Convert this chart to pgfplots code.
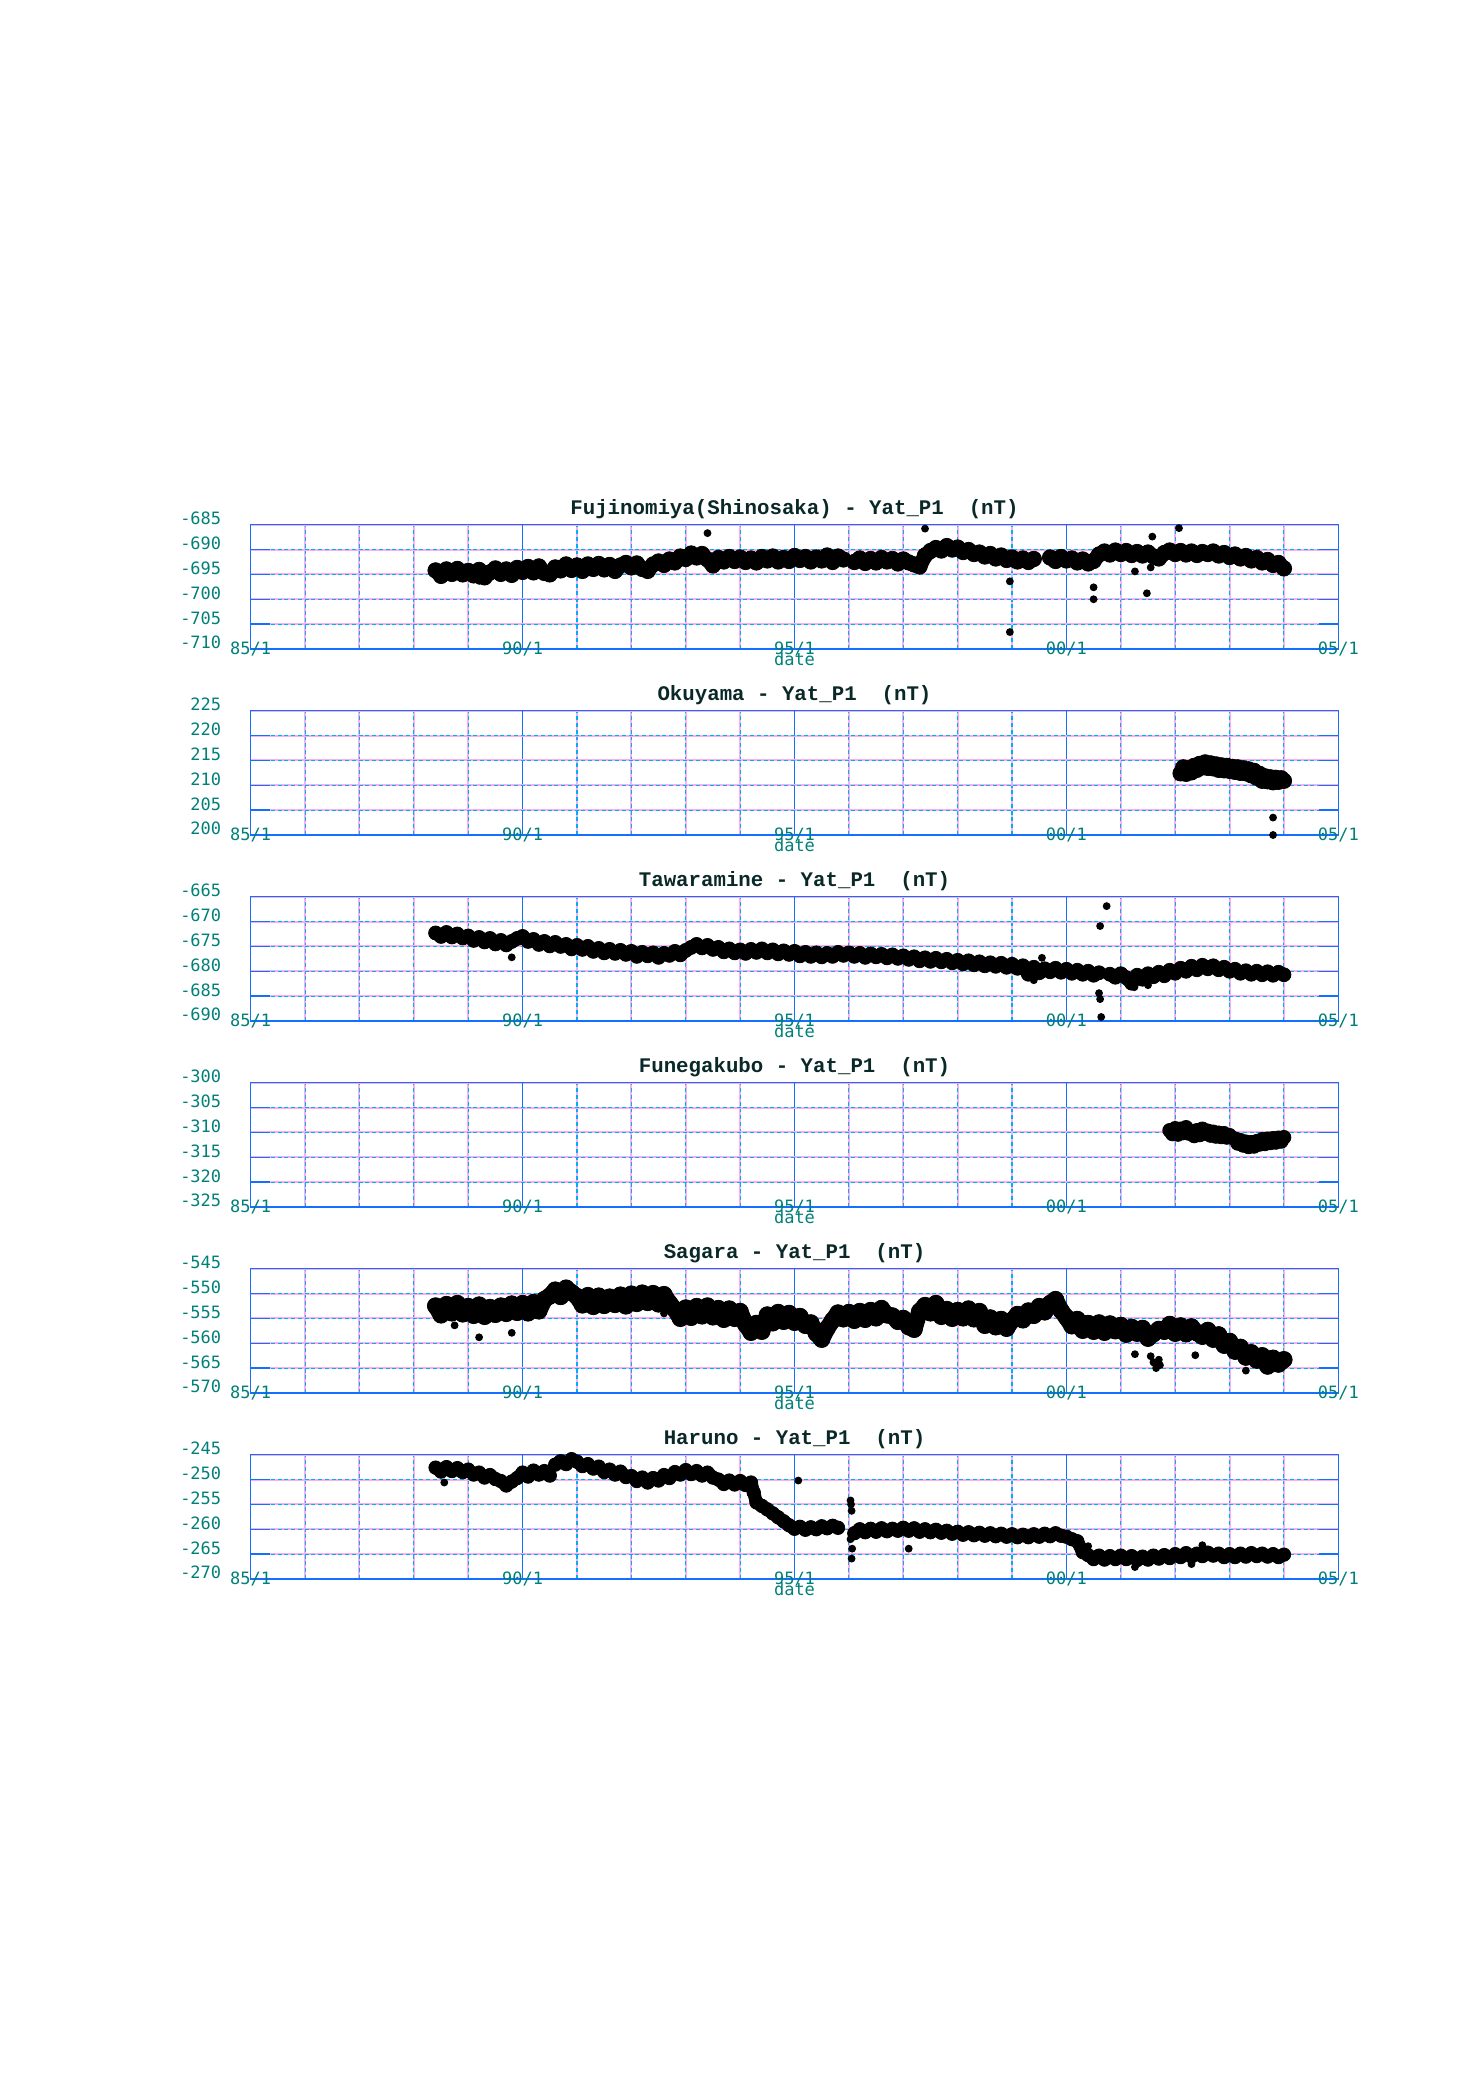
\documentclass[border=0pt]{standalone}
\usepackage{pgfplots}
\pgfplotsset{compat=1.18}
\usepackage{fontspec}
\newfontfamily\tickfont{DejaVu Sans Mono}
\newfontfamily\titlefont{Liberation Mono}
\definecolor{frameblue}{RGB}{20,110,255}
\definecolor{gridcyan}{RGB}{0,175,245}
\definecolor{gridpink}{RGB}{250,175,235}
\definecolor{labteal}{RGB}{0,128,120}
\definecolor{titlecol}{RGB}{10,40,40}
\pgfplotsset{
  panel/.style={
    scale only axis, width=435.04pt, height=49.72pt, anchor=south west,
    clip=false, unbounded coords=jump,
    xmin=85, xmax=105,
    xtick={85,90,95,100,105},
    xticklabels={85/1,90/1,95/1,00/1,05/1},
    minor xtick={86,87,88,89,91,92,93,94,96,97,98,99,101,102,103,104},
    tick align=inside, xtick pos=both, ytick pos=both,
    major tick length=7.6pt, minor tick length=0pt,
    tick style={frameblue, line width=0.6pt},
    axis line style={frameblue, line width=0.6pt},
    xmajorgrids, xminorgrids, ymajorgrids,
    major x grid style={frameblue, line width=0.5pt, solid},
    minor x grid style={gridcyan, line width=0.45pt, dash pattern=on 1.6pt off 1.1pt,
      preaction={draw=gridpink, solid, line width=0.8pt}},
    major y grid style={gridcyan, line width=0.45pt, dash pattern=on 1.6pt off 1.1pt,
      preaction={draw=gridpink, solid, line width=0.8pt}},
    xticklabel style={font=\tickfont\fontsize{6.8pt}{6.8pt}\selectfont, text=labteal, anchor=center, inner sep=0pt},
    yticklabel style={font=\tickfont\fontsize{6.8pt}{6.8pt}\selectfont, text=labteal, anchor=base east, inner sep=0pt, xshift=-11.6pt},
    xlabel={date},
    xlabel style={font=\tickfont\fontsize{6.8pt}{6.8pt}\selectfont, text=labteal, anchor=base, at={(axis description cs:0.5,0)}, yshift=-6.8pt, inner sep=0pt},
    title style={font=\titlefont\bfseries\fontsize{8.3pt}{8.3pt}\selectfont, text=titlecol, anchor=base, at={(axis description cs:0.5,1)}, yshift=-1.8pt, inner sep=0pt},
  },
  band/.style={black, mark=*, line join=round, line cap=round,
    mark options={solid, line width=0.3pt, draw=black, fill=black}},
  outl/.style={only marks, mark=*, mark size=1.35pt, black, mark options={draw=black, fill=black}},
}
\begin{document}
\begin{tikzpicture}
\path[use as bounding box] (0,0) rectangle (592pt,839.6pt);

% ---------- Fujinomiya ----------
\begin{axis}[panel, at={(100.28pt,580pt)}, ymin=-710, ymax=-685,
  ytick={-710,-705,-700,-695,-690,-685}, yticklabels={-710,-705,-700,-695,-690,-685},
  title={Fujinomiya(Shinosaka) - Yat\_P1\ \ (nT)}]
\addplot[band, line width=6pt, mark size=3.1pt] coordinates {
(88.4,-694.2)(88.5,-695.3)(88.6,-694.0)(88.7,-694.9)(88.8,-693.9)(88.9,-695.0)(89.0,-694.3)(89.1,-695.2)(89.2,-694.1)(89.3,-695.6)
(89.4,-694.6)(89.5,-693.8)(89.6,-694.9)(89.7,-694.0)(89.8,-695.1)(89.9,-693.7)(90.0,-694.5)(90.1,-693.5)(90.2,-694.6)(90.3,-693.4)
(90.4,-694.7)(90.5,-695.0)(90.6,-693.6)(90.7,-694.2)(90.8,-693.0)(90.9,-694.1)(91.0,-693.2)(91.1,-694.3)(91.2,-693.0)(91.3,-693.9)
(91.4,-692.9)(91.5,-694.0)(91.6,-693.1)(91.7,-694.3)(91.8,-693.2)(91.9,-692.7)(92.0,-693.6)(92.1,-692.8)(92.2,-693.9)(92.3,-694.3)
(92.4,-693.0)(92.5,-692.4)(92.6,-693.1)(92.7,-692.0)(92.8,-692.6)(92.9,-691.4)(93.0,-691.9)(93.1,-690.8)(93.2,-691.6)(93.3,-690.9)
(93.4,-692.0)(93.5,-693.2)(93.6,-691.7)(93.7,-692.4)(93.8,-691.5)(93.9,-692.3)(94.0,-691.6)(94.1,-692.5)(94.2,-691.8)(94.3,-692.6)
(94.4,-691.5)(94.5,-692.2)(94.6,-691.4)(94.7,-692.4)(94.8,-691.7)(94.9,-692.3)(95.0,-691.3)(95.1,-692.1)(95.2,-691.5)(95.3,-692.4)
(95.4,-691.6)(95.5,-692.2)(95.6,-691.2)(95.7,-692.5)(95.8,-691.4)(95.9,-692.0)(96.0,nan)
(96.1,-692.5)(96.2,-691.8)(96.3,-692.7)(96.4,-691.9)(96.5,-692.6)(96.6,-691.7)(96.7,-692.4)(96.8,-691.9)(96.9,-692.8)(97.0,-692.0)
(97.1,-692.6)(97.2,-693.0)(97.3,-693.4)(97.4,-691.2)(97.5,-690.3)(97.6,-689.7)(97.7,-690.2)(97.8,-689.3)(97.9,-690.0)(98.0,-689.6)
(98.1,-690.5)(98.2,-690.1)(98.3,-690.9)(98.4,-690.6)(98.5,-691.4)(98.6,-690.9)(98.7,-691.8)(98.8,-691.2)(98.9,-692.1)(99.0,-691.6)
(99.1,-692.4)(99.2,-691.8)(99.3,-692.5)(99.4,-691.9)(99.55,nan)
(99.7,-691.6)(99.8,-692.3)(99.9,-691.5)(100.0,-692.2)(100.1,-691.8)(100.2,-692.6)(100.3,-692.0)(100.4,-692.8)(100.5,-692.3)(100.6,-691.0)
(100.7,-690.4)(100.8,-691.0)(100.9,-690.2)(101.0,-690.9)(101.1,-690.3)(101.2,-691.1)(101.3,-690.5)(101.4,-691.2)(101.5,-690.6)(101.6,-691.4)
(101.7,-691.8)(101.8,-690.7)(101.9,-690.2)(102.0,-690.9)(102.1,-690.3)(102.2,-691.0)(102.3,-690.4)(102.4,-691.1)(102.5,-690.5)(102.6,-690.9)
(102.7,-690.4)(102.8,-691.2)(102.9,-690.7)(103.0,-691.5)(103.1,-691.0)(103.2,-691.8)(103.3,-691.3)(103.4,-692.2)(103.5,-691.7)(103.6,-692.6)
(103.7,-692.1)(103.8,-693.1)(103.9,-692.7)(104.0,-693.8)
};
\addplot[outl] coordinates {
(93.4,-686.7)(97.4,-685.8)(98.96,-696.4)(98.96,-706.6)(100.5,-697.6)(100.5,-700.0)
(101.26,-694.4)(101.48,-698.8)(101.58,-687.4)(102.07,-685.7)(101.55,-693.6)(89.2,-696.3)
};
\end{axis}

% ---------- Okuyama ----------
\begin{axis}[panel, at={(100.28pt,505.6pt)}, ymin=200, ymax=225,
  ytick={200,205,210,215,220,225}, yticklabels={200,205,210,215,220,225},
  title={Okuyama - Yat\_P1\ \ (nT)}]
\addplot[band, line width=6pt, mark size=3.1pt] coordinates {
(102.1,212.4)(102.15,213.6)(102.2,212.3)(102.25,213.4)(102.3,212.6)(102.35,213.9)(102.4,213.1)(102.45,214.3)(102.5,213.6)(102.55,214.6)
(102.6,213.5)(102.65,214.4)(102.7,213.4)(102.75,214.2)(102.8,213.1)(102.85,214.0)(102.9,213.0)(102.95,213.9)(103.0,212.9)(103.05,213.7)
(103.1,212.7)(103.15,213.6)(103.2,212.5)(103.25,213.4)(103.3,212.4)(103.35,213.2)(103.4,212.0)(103.45,212.9)(103.5,211.5)(103.55,212.3)
(103.6,210.9)(103.65,211.8)(103.7,210.8)(103.75,211.6)(103.8,210.6)(103.85,211.5)(103.9,210.7)(103.95,211.4)(104.0,210.9)
};
\addplot[outl] coordinates {(103.8,203.5)(103.8,200.0)};
\end{axis}

% ---------- Tawaramine ----------
\begin{axis}[panel, at={(100.28pt,431.2pt)}, ymin=-690, ymax=-665,
  ytick={-690,-685,-680,-675,-670,-665}, yticklabels={-690,-685,-680,-675,-670,-665},
  title={Tawaramine - Yat\_P1\ \ (nT)}]
\addplot[band, line width=5.4pt, mark size=2.8pt] coordinates {
(88.4,-672.3)(88.5,-673.0)(88.6,-672.2)(88.7,-673.1)(88.8,-672.5)(88.9,-673.3)(89.0,-672.9)(89.1,-673.8)(89.2,-673.2)(89.3,-674.1)
(89.4,-673.4)(89.5,-674.5)(89.6,-673.8)(89.7,-674.7)(89.8,-674.0)(89.9,-673.4)(90.0,-673.0)(90.1,-674.0)(90.2,-673.6)(90.3,-674.6)
(90.4,-674.0)(90.5,-674.9)(90.6,-674.2)(90.7,-675.0)(90.8,-674.6)(90.9,-675.5)(91.0,-674.8)(91.1,-675.6)(91.2,-675.0)(91.3,-676.0)
(91.4,-675.4)(91.5,-676.3)(91.6,-675.6)(91.7,-676.4)(91.8,-675.8)(91.9,-676.6)(92.0,-676.0)(92.1,-677.0)(92.2,-676.2)(92.3,-676.9)
(92.4,-676.3)(92.5,-677.2)(92.6,-676.4)(92.7,-676.8)(92.8,-676.0)(92.9,-676.7)(93.0,-675.8)(93.1,-675.2)(93.2,-674.6)(93.3,-675.3)
(93.4,-674.8)(93.5,-675.6)(93.6,-675.2)(93.7,-676.1)(93.8,-675.5)(93.9,-676.3)(94.0,-675.7)(94.1,-676.4)(94.2,-675.6)(94.3,-676.2)
(94.4,-675.5)(94.5,-676.3)(94.6,-675.7)(94.7,-676.5)(94.8,-675.9)(94.9,-676.6)(95.0,-676.0)(95.1,-676.9)(95.2,-676.2)(95.3,-677.0)
(95.4,-676.3)(95.5,-677.1)(95.6,-676.4)(95.7,-677.0)(95.8,-676.2)(95.9,-676.8)
(96.0,-676.3)(96.1,-677.0)(96.2,-676.4)(96.3,-677.2)(96.4,-676.5)(96.5,-677.1)(96.6,-676.6)(96.7,-677.3)(96.8,-676.7)(96.9,-677.4)
(97.0,-676.9)(97.1,-677.6)(97.2,-677.1)(97.3,-677.9)(97.4,-677.3)(97.5,-678.0)(97.6,-677.4)(97.7,-678.1)(97.8,-677.6)(97.9,-678.3)
(98.0,-677.8)(98.1,-678.5)(98.2,-677.9)(98.3,-678.7)(98.4,-678.1)(98.5,-678.9)(98.6,-678.3)(98.7,-679.0)(98.8,-678.4)(98.9,-679.2)
(99.0,-678.6)(99.1,-679.4)(99.2,-678.9)(99.3,-680.6)(99.4,-679.2)(99.5,-680.3)(99.6,-679.5)(99.7,-680.1)(99.8,-679.4)(99.9,-680.2)
(100.0,-679.6)(100.1,-680.4)(100.2,-679.8)(100.3,-680.6)(100.4,-680.0)(100.5,-680.8)(100.6,-680.3)(100.7,nan)
(100.8,-680.6)(100.9,-681.2)(101.0,-680.5)(101.1,-681.3)(101.2,-682.4)(101.3,-680.8)(101.4,-681.6)(101.5,-680.5)(101.6,-681.1)(101.7,-680.2)
(101.8,-680.9)(101.9,-679.8)(102.0,-680.4)(102.1,-679.4)(102.2,-680.0)(102.3,-679.0)(102.4,-679.7)(102.5,-678.8)(102.6,-679.5)(102.7,-678.9)
(102.8,-679.7)(102.9,-679.2)(103.0,-680.0)(103.1,-679.6)(103.2,-680.4)(103.3,-679.9)(103.4,-680.6)(103.5,-680.0)(103.6,-680.7)(103.7,-680.1)
(103.8,-680.8)(103.9,-680.2)(104.0,-680.7)
};
\addplot[outl] coordinates {
(89.8,-677.2)(99.55,-677.3)(99.4,-681.8)(100.62,-670.9)(100.74,-666.9)(100.6,-684.4)(100.62,-685.6)(100.64,-689.2)(101.25,-683.2)(101.5,-682.8)
};
\end{axis}

% ---------- Funegakubo ----------
\begin{axis}[panel, at={(100.28pt,356.8pt)}, ymin=-325, ymax=-300,
  ytick={-325,-320,-315,-310,-305,-300}, yticklabels={-325,-320,-315,-310,-305,-300},
  title={Funegakubo - Yat\_P1\ \ (nT)}]
\addplot[band, line width=5.4pt, mark size=2.8pt] coordinates {
(101.9,-309.6)(101.95,-310.3)(102.0,-309.2)(102.05,-310.4)(102.1,-309.3)(102.15,-310.1)(102.2,-309.0)(102.25,-310.2)(102.3,-309.8)(102.35,-310.7)
(102.4,-309.6)(102.45,-310.5)(102.5,-309.3)(102.55,-310.2)(102.6,-309.7)(102.65,-310.6)(102.7,-309.9)(102.75,-310.8)(102.8,-310.1)(102.85,-310.9)
(102.9,-310.2)(102.95,-311.0)(103.0,-310.6)(103.05,nan)
(103.1,-311.3)(103.15,-312.2)(103.2,-311.6)(103.25,-312.6)(103.3,-311.9)(103.35,-312.9)(103.4,-312.0)(103.45,-312.8)(103.5,-311.8)(103.55,-312.4)
(103.6,-311.4)(103.65,-312.3)(103.7,-311.3)(103.75,-312.1)(103.8,-311.2)(103.85,-312.0)(103.9,-311.1)(103.95,-311.8)(104.0,-311.0)
};
\end{axis}

% ---------- Sagara ----------
\begin{axis}[panel, at={(100.28pt,282.4pt)}, ymin=-570, ymax=-545,
  ytick={-570,-565,-560,-555,-550,-545}, yticklabels={-570,-565,-560,-555,-550,-545},
  title={Sagara - Yat\_P1\ \ (nT)}]
\addplot[band, line width=6.6pt, mark size=3.3pt] coordinates {
(88.4,-552.5)(88.5,-554.3)(88.6,-552.2)(88.7,-553.9)(88.8,-552.0)(88.9,-554.1)(89.0,-552.6)(89.1,-554.4)(89.2,-552.3)(89.3,-554.6)
(89.4,-552.8)(89.5,-554.2)(89.6,-552.5)(89.7,-554.0)(89.8,-552.1)(89.9,-553.8)(90.0,-552.0)(90.1,-553.9)(90.2,-551.8)(90.3,-553.5)
(90.4,-551.2)(90.5,-550.5)(90.6,-549.3)(90.7,-550.6)(90.8,-548.9)(90.9,-549.8)(91.0,-550.6)(91.1,-552.3)(91.2,-550.4)(91.3,-552.6)
(91.4,-550.5)(91.5,-552.4)(91.6,-550.7)(91.7,-552.2)(91.8,-550.3)(91.9,-552.5)(92.0,-550.1)(92.1,-552.0)(92.2,-549.9)(92.3,-551.8)
(92.4,-550.0)(92.5,-552.1)(92.6,-550.2)(92.7,-551.9)(92.8,-553.2)(92.9,-555.0)(93.0,-552.9)(93.1,-554.8)(93.2,-552.6)(93.3,-554.5)
(93.4,-552.5)(93.5,-554.7)(93.6,-553.0)(93.7,-555.2)(93.8,-553.1)(93.9,-555.0)(94.0,-553.6)(94.1,-556.2)(94.2,-557.8)(94.3,-556.0)
(94.4,-557.6)(94.5,-554.3)(94.6,-555.9)(94.7,-553.8)(94.8,-555.6)(94.9,-554.0)(95.0,-555.8)(95.1,-554.6)(95.2,-556.4)(95.3,-555.9)
(95.4,-558.0)(95.5,-559.2)(95.6,-557.0)(95.7,-555.4)(95.8,-553.9)(95.9,-555.1)(95.95,nan)
(96.0,-553.8)(96.1,-555.4)(96.2,-553.6)(96.3,-555.2)(96.4,-553.4)(96.5,-554.9)(96.6,-553.0)(96.7,-554.3)(96.8,-554.5)(96.9,-555.6)
(97.0,-555.0)(97.1,-556.7)(97.2,-557.2)(97.3,-553.6)(97.4,-552.4)(97.5,-553.9)(97.6,-552.0)(97.7,-554.6)(97.8,-553.2)(97.9,-555.0)
(98.0,-553.4)(98.1,-554.9)(98.2,-553.1)(98.3,-555.1)(98.4,-553.6)(98.5,-556.4)(98.6,-554.9)(98.7,-556.7)(98.8,-555.2)(98.9,-557.0)
(99.0,-555.4)(99.1,-554.2)(99.2,-555.3)(99.3,-553.5)(99.4,-554.4)(99.5,-552.6)(99.6,-553.7)(99.7,-552.0)(99.8,-551.2)(99.9,-553.4)
(100.0,-554.8)(100.1,-556.5)(100.2,-555.2)(100.3,-557.4)(100.4,-556.0)(100.5,-557.6)(100.6,-555.9)(100.7,-557.8)(100.8,-556.1)(100.9,-557.5)
(101.0,-556.4)(101.1,-558.2)(101.2,-556.8)(101.3,-558.0)(101.4,-557.0)(101.5,-559.0)(101.6,-558.1)(101.7,-557.2)(101.8,-557.6)(101.9,-556.2)
(102.0,-558.0)(102.1,-556.5)(102.2,-558.1)(102.3,-556.7)(102.4,-557.9)(102.5,-558.6)(102.6,-557.4)(102.7,-559.2)(102.8,-558.3)(102.9,-560.4)
(103.0,-559.6)(103.1,-561.6)(103.2,-560.8)(103.3,-562.8)(103.4,-561.9)(103.5,-563.4)(103.6,-562.5)(103.7,-564.6)(103.8,-563.0)(103.9,-564.2)
(104.0,-563.3)
};
\addplot[outl] coordinates {
(88.75,-556.4)(89.2,-558.8)(89.8,-557.9)(92.6,-554.0)(101.26,-562.2)(101.55,-562.6)(101.6,-563.8)(101.65,-565.0)(101.7,-563.3)(101.72,-564.4)(101.62,-564.0)(102.37,-562.4)(103.3,-565.5)
};
\end{axis}

% ---------- Haruno ----------
\begin{axis}[panel, at={(100.28pt,208pt)}, ymin=-270, ymax=-245,
  ytick={-270,-265,-260,-255,-250,-245}, yticklabels={-270,-265,-260,-255,-250,-245},
  title={Haruno - Yat\_P1\ \ (nT)}]
\addplot[band, line width=5.2pt, mark size=2.7pt] coordinates {
(88.4,-247.6)(88.5,-248.4)(88.6,-247.5)(88.7,-248.3)(88.8,-247.7)(88.9,-248.5)(89.0,-248.0)(89.1,-249.0)(89.2,-248.6)(89.3,-249.6)
(89.4,-249.1)(89.5,-249.9)(89.6,-250.3)(89.7,-251.2)(89.8,-250.4)(89.9,-249.7)(90.0,-248.6)(90.1,-249.4)(90.2,-248.2)(90.3,-249.0)
(90.4,-248.3)(90.5,-249.2)(90.55,nan)
(90.6,-247.0)(90.7,-246.3)(90.8,-246.9)(90.9,-245.9)(91.0,-246.4)(91.1,-247.3)(91.2,-246.9)(91.3,-247.8)(91.4,-247.4)(91.5,-248.5)
(91.6,-248.0)(91.7,-249.0)(91.8,-248.4)(91.9,-249.5)(92.0,-249.3)(92.1,-250.3)(92.2,-249.6)(92.3,-250.6)(92.4,-249.7)(92.5,-250.2)
(92.6,-249.1)(92.7,-249.7)(92.8,-248.5)(92.9,-249.0)(93.0,-248.1)(93.1,-248.9)(93.2,-248.3)(93.3,-249.2)(93.4,-248.6)(93.5,-249.6)
(93.6,-250.0)(93.7,-250.9)(93.8,-250.2)(93.9,-251.0)(94.0,-250.3)(94.1,-251.1)(94.2,-250.6)(94.25,-252.6)(94.3,-254.6)(94.4,-255.3)
(94.5,-256.0)(94.6,-256.8)(94.7,-257.6)(94.8,-258.4)(94.9,-259.2)(95.0,-259.9)(95.1,-259.5)(95.2,-260.1)(95.3,-259.6)(95.4,-260.0)
(95.5,-259.4)(95.6,-259.8)(95.7,-259.3)(95.8,-259.7)(96.0,nan)
(96.1,-260.8)(96.2,-260.0)(96.3,-260.6)(96.4,-259.9)(96.5,-260.5)(96.6,-259.8)(96.7,-260.4)(96.8,-259.9)(96.9,-260.3)(97.0,-259.7)
(97.1,-260.3)(97.2,-259.8)(97.3,-260.5)(97.4,-260.0)(97.5,-260.6)(97.6,-260.1)(97.7,-260.7)(97.8,-260.3)(97.9,-260.9)(98.0,-260.5)
(98.1,-261.1)(98.2,-260.6)(98.3,-261.2)(98.4,-260.7)(98.5,-261.3)(98.6,-260.8)(98.7,-261.4)(98.8,-260.9)(98.9,-261.5)(99.0,-261.0)
(99.1,-261.6)(99.2,-261.1)(99.3,-261.6)(99.4,-261.0)(99.5,-261.5)(99.6,-260.9)(99.7,-261.4)(99.8,-260.8)(99.9,-261.3)(100.0,-261.5)
(100.1,-262.0)(100.2,-262.4)(100.3,-264.6)(100.4,-265.2)(100.5,-266.0)(100.6,-265.3)(100.7,-266.1)(100.8,-265.4)(100.9,-266.0)(101.0,-265.3)
(101.1,-266.0)(101.2,-265.4)(101.3,-266.2)(101.4,-265.5)(101.5,-266.1)(101.6,-265.3)(101.7,-265.9)(101.8,-265.2)(101.9,-265.8)(102.0,-265.0)
(102.1,-265.6)(102.2,-264.8)(102.3,-265.5)(102.4,-264.9)(102.5,-265.4)(102.6,-264.7)(102.7,-265.3)(102.8,-264.9)(102.9,-265.6)(103.0,-265.0)
(103.1,-265.6)(103.2,-264.9)(103.3,-265.5)(103.4,-264.8)(103.5,-265.4)(103.6,-264.9)(103.7,-265.5)(103.8,-265.0)(103.9,-265.6)(104.0,-265.1)
};
\addplot[outl] coordinates {
(88.56,-250.6)(95.07,-250.2)(96.03,-254.2)(96.04,-255.0)(96.05,-256.3)(96.03,-262.0)(96.06,-263.9)(96.05,-265.9)
(97.1,-263.9)(100.4,-263.4)(101.26,-267.6)(102.3,-267.0)(102.5,-263.2)
};
\end{axis}
\end{tikzpicture}
\end{document}
